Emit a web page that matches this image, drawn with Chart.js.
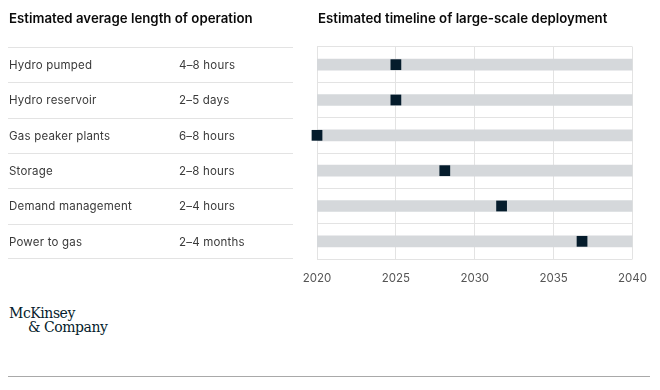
<!DOCTYPE html>
<html>
<head>
<meta charset="utf-8">
<script src="https://cdn.jsdelivr.net/npm/chart.js@4"></script>
<style>
    body { margin: 0; background: #fff; font-family: Inter, "Noto Sans", sans-serif; }
    .page { position: relative; width: 660px; height: 390px; overflow: hidden; }
    .title { position: absolute; top: 10px; font-size: 13.25px; font-weight: 600; color: #0a0a0a; }
    #tabla { position: absolute; left: 8px; top: 47px; width: 285px; }
    .fila { height: 35.33px; border-top: 1px solid #e3e3e3; box-sizing: border-box; position: relative; font-size: 11.5px; color: #3a3a3a; letter-spacing: 0.2px; }
    .fila:last-child { border-bottom: 1px solid #e3e3e3; }
    .fila span { position: absolute; top: 10px; }
    .chart-box { position: absolute; left: 0; top: 0; width: 660px; height: 300px; }
    .logo { position: absolute; left: 9px; top: 306px; font-family: "DejaVu Serif", "Liberation Serif", serif; font-size: 14px; line-height: 14px; color: #051c2c; letter-spacing: -0.45px; }
    .regla { position: absolute; left: 8px; right: 10px; top: 376px; border-top: 1px solid #a9a9a9; }
</style>
</head>
<body>
<div class="page">
    <div class="chart-box"><canvas id="chartTimeline"></canvas></div>
    <div class="title" style="left: 9px;">Estimated average length of operation</div>
    <div class="title" style="left: 318px;">Estimated timeline of large-scale deployment</div>
    <div id="tabla"></div>
    <div class="logo">McKinsey<br><span style="padding-left: 19px;">&amp; Company</span></div>
    <div class="regla"></div>
</div>
<script>
// datos del gráfico
const categories = ['Hydro pumped', 'Hydro reservoir', 'Gas peaker plants', 'Storage', 'Demand management', 'Power to gas'];
const durations = ['4–8 hours', '2–5 days', '6–8 hours', '2–8 hours', '2–4 hours', '2–4 months'];
const deploymentYear = [2025, 2025, 2020, 2028.1, 2031.7, 2036.8];
const timelineStart = [2020, 2020, 2020, 2020, 2020, 2020];
const timelineEnd = [2040, 2040, 2040, 2040, 2040, 2040];
const yearTicks = [2020, 2025, 2030, 2035, 2040];

// tabla izquierda
const tabla = document.getElementById('tabla');
categories.forEach((cat, i) => {
    const fila = document.createElement('div');
    fila.className = 'fila';
    fila.innerHTML = '<span style="left:1px">' + cat + '</span><span style="left:171px">' + durations[i] + '</span>';
    tabla.appendChild(fila);
});

const ctx = document.getElementById('chartTimeline').getContext('2d');

new Chart(ctx, {
    type: 'bar',
    data: {
        labels: categories,
        datasets: [
            {
                type: 'scatter',
                label: 'Deployment',
                data: categories.map((c, i) => ({ x: deploymentYear[i], y: c })),
                pointStyle: 'rect',
                pointRadius: 7.6,
                pointHoverRadius: 7.6,
                pointBorderWidth: 0,
                backgroundColor: '#051c2c',
                borderColor: '#051c2c',
                clip: false
            },
            {
                label: 'Timeline',
                data: categories.map((c, i) => [timelineStart[i], timelineEnd[i]]),
                backgroundColor: '#d5d8db',
                borderWidth: 0,
                borderSkipped: false,
                barThickness: 11
            }
        ]
    },
    options: {
        indexAxis: 'y',
        responsive: true,
        maintainAspectRatio: false,
        animation: false,
        // el eje x suma el padding de ticks dos veces a su altura
        layout: { padding: { left: 317, right: 26, top: 47, bottom: 1.2 } },
        plugins: {
            legend: { display: false },
            tooltip: { enabled: false }
        },
        scales: {
            x: {
                type: 'linear',
                min: 2020,
                max: 2040,
                afterBuildTicks: axis => { axis.ticks = yearTicks.map(v => ({ value: v })); },
                grid: { color: '#e3e3e3', drawTicks: false },
                border: { display: false },
                ticks: {
                    padding: 13,
                    color: '#555',
                    font: { family: 'Inter', size: 11.5 },
                    callback: v => String(v),
                    maxRotation: 0
                }
            },
            y: {
                type: 'category',
                offset: true,
                grid: { offset: true, color: '#e3e3e3', drawTicks: false },
                border: { display: false },
                ticks: { display: false }
            }
        }
    }
});
</script>
</body>
</html>
